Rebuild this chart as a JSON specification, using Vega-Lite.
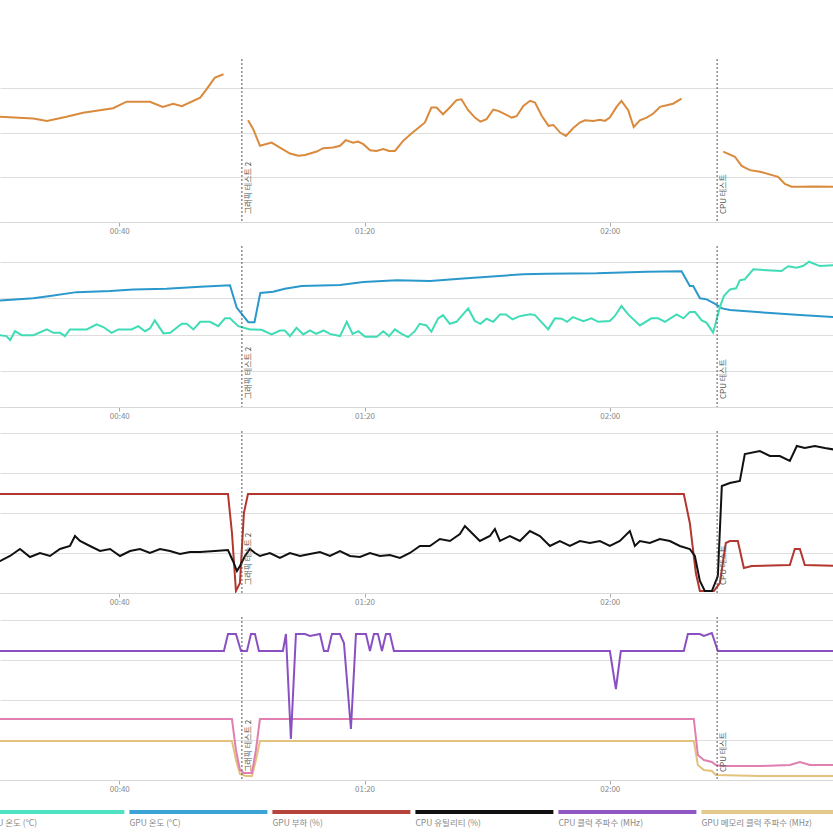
{
  "$schema": "https://vega.github.io/schema/vega-lite/v6.json",
  "padding": {"top": 58, "left": 0, "right": 0, "bottom": 0},
  "background": "white",
  "config": {
    "font": "Noto Sans CJK KR",
    "view": {"stroke": null},
    "axisX": {"grid": false, "tickSize": 4, "tickColor": "#aaa", "domainColor": "#d8d8d8", "labelFontSize": 8, "labelColor": "#888", "labelPadding": 1, "title": null},
    "axisY": {"labels": false, "ticks": false, "domain": false, "grid": true, "gridColor": "#dedede", "title": null}
  },
  "datasets": {
    "events": [{"t": 60.0, "label": "그래픽 테스트 2"}, {"t": 137.5, "label": "CPU 테스트"}],
    "p1": [
      {"t":19,"v":47.0,"s":"a"},{"t":20.55,"v":47.1,"s":"a"},{"t":25.98,"v":46.3,"s":"a"},{"t":28.2,"v":45.2,"s":"a"},{"t":31.4,"v":47.1,"s":"a"},{"t":34.1,"v":48.9,"s":"a"},{"t":39.0,"v":50.9,"s":"a"},{"t":41.2,"v":53.8,"s":"a"},{"t":45.0,"v":53.8,"s":"a"},{"t":47.1,"v":51.5,"s":"a"},{"t":48.8,"v":52.9,"s":"a"},{"t":50.2,"v":51.8,"s":"a"},{"t":53.2,"v":55.6,"s":"a"},{"t":54.25,"v":59.4,"s":"a"},{"t":55.6,"v":64.6,"s":"a"},{"t":57.0,"v":66.1,"s":"a"},
      {"t":61.0,"v":45.5,"s":"b"},{"t":61.85,"v":41.5,"s":"b"},{"t":62.95,"v":34.1,"s":"b"},{"t":64.85,"v":35.5,"s":"b"},{"t":66.2,"v":33.3,"s":"b"},{"t":67.85,"v":30.6,"s":"b"},{"t":69.2,"v":29.6,"s":"b"},{"t":70.3,"v":30.0,"s":"b"},{"t":72.2,"v":31.5,"s":"b"},{"t":73.25,"v":33.0,"s":"b"},{"t":74.9,"v":33.3,"s":"b"},{"t":76.0,"v":34.1,"s":"b"},{"t":76.95,"v":36.6,"s":"b"},{"t":78.15,"v":35.5,"s":"b"},{"t":78.95,"v":36.0,"s":"b"},{"t":79.8,"v":34.8,"s":"b"},{"t":80.9,"v":32.1,"s":"b"},{"t":81.95,"v":31.8,"s":"b"},{"t":83.05,"v":32.6,"s":"b"},{"t":84.0,"v":31.8,"s":"b"},{"t":84.95,"v":31.8,"s":"b"},{"t":86.3,"v":36.3,"s":"b"},{"t":87.65,"v":39.6,"s":"b"},{"t":88.75,"v":42.0,"s":"b"},{"t":89.85,"v":44.5,"s":"b"},{"t":90.9,"v":51.2,"s":"b"},{"t":91.75,"v":51.2,"s":"b"},{"t":92.8,"v":48.2,"s":"b"},{"t":93.9,"v":51.2,"s":"b"},{"t":95.0,"v":54.5,"s":"b"},{"t":95.8,"v":54.9,"s":"b"},{"t":96.9,"v":50.0,"s":"b"},{"t":98.0,"v":46.7,"s":"b"},{"t":98.9,"v":44.9,"s":"b"},{"t":99.9,"v":46.0,"s":"b"},{"t":101.0,"v":50.3,"s":"b"},{"t":101.8,"v":49.7,"s":"b"},{"t":102.9,"v":48.2,"s":"b"},{"t":104.0,"v":46.7,"s":"b"},{"t":104.8,"v":47.3,"s":"b"},{"t":105.9,"v":51.9,"s":"b"},{"t":107.0,"v":54.2,"s":"b"},{"t":107.8,"v":53.4,"s":"b"},{"t":108.9,"v":47.5,"s":"b"},{"t":110.0,"v":43.0,"s":"b"},{"t":110.8,"v":43.4,"s":"b"},{"t":111.9,"v":40.0,"s":"b"},{"t":112.85,"v":38.5,"s":"b"},{"t":114.05,"v":42.0,"s":"b"},{"t":115.1,"v":44.5,"s":"b"},{"t":115.95,"v":45.5,"s":"b"},{"t":117.3,"v":45.2,"s":"b"},{"t":118.4,"v":45.7,"s":"b"},{"t":119.2,"v":45.2,"s":"b"},{"t":120.0,"v":46.7,"s":"b"},{"t":121.1,"v":51.5,"s":"b"},{"t":121.9,"v":54.2,"s":"b"},{"t":123.0,"v":50.0,"s":"b"},{"t":123.9,"v":42.5,"s":"b"},{"t":124.9,"v":45.5,"s":"b"},{"t":126.0,"v":46.7,"s":"b"},{"t":127.1,"v":48.5,"s":"b"},{"t":128.2,"v":51.5,"s":"b"},{"t":129.3,"v":52.2,"s":"b"},{"t":130.3,"v":52.9,"s":"b"},{"t":131.7,"v":55.2,"s":"b"},
      {"t":138.5,"v":31.5,"s":"c"},{"t":140.4,"v":29.2,"s":"c"},{"t":141.5,"v":25.1,"s":"c"},{"t":142.85,"v":23.2,"s":"c"},{"t":144.5,"v":22.5,"s":"c"},{"t":147.45,"v":20.2,"s":"c"},{"t":148.55,"v":17.0,"s":"c"},{"t":149.65,"v":15.8,"s":"c"},{"t":151.0,"v":15.8,"s":"c"},{"t":153.15,"v":15.9,"s":"c"},{"t":156.4,"v":15.8,"s":"c"},{"t":158,"v":15.8,"s":"c"}
    ],
    "p2": [
      {"k":"GPU 온도 (°C)","t":19,"v":58.6},{"k":"GPU 온도 (°C)","t":20.55,"v":58.9},{"k":"GPU 온도 (°C)","t":25.98,"v":60.1},{"k":"GPU 온도 (°C)","t":28.7,"v":61.3},{"k":"GPU 온도 (°C)","t":33.05,"v":63.5},{"k":"GPU 온도 (°C)","t":38.5,"v":64.1},{"k":"GPU 온도 (°C)","t":42.3,"v":65.0},{"k":"GPU 온도 (°C)","t":47.7,"v":65.4},{"k":"GPU 온도 (°C)","t":53.2,"v":66.5},{"k":"GPU 온도 (°C)","t":58.05,"v":67.3},{"k":"GPU 온도 (°C)","t":59.15,"v":55.0},{"k":"GPU 온도 (°C)","t":61.05,"v":46.9},{"k":"GPU 온도 (°C)","t":62.05,"v":46.9},{"k":"GPU 온도 (°C)","t":63.0,"v":63.0},{"k":"GPU 온도 (°C)","t":65.1,"v":63.7},{"k":"GPU 온도 (°C)","t":67.0,"v":65.4},{"k":"GPU 온도 (°C)","t":69.75,"v":66.9},{"k":"GPU 온도 (°C)","t":76.0,"v":67.4},{"k":"GPU 온도 (°C)","t":79.8,"v":69.1},{"k":"GPU 온도 (°C)","t":85.25,"v":70.0},{"k":"GPU 온도 (°C)","t":90.7,"v":69.6},{"k":"GPU 온도 (°C)","t":96.1,"v":71.1},{"k":"GPU 온도 (°C)","t":105.9,"v":73.4},{"k":"GPU 온도 (°C)","t":109.7,"v":73.7},{"k":"GPU 온도 (°C)","t":117.85,"v":73.9},{"k":"GPU 온도 (°C)","t":126.0,"v":74.8},{"k":"GPU 온도 (°C)","t":131.7,"v":75.0},{"k":"GPU 온도 (°C)","t":133.05,"v":66.9},{"k":"GPU 온도 (°C)","t":133.6,"v":66.9},{"k":"GPU 온도 (°C)","t":134.7,"v":60.1},{"k":"GPU 온도 (°C)","t":135.8,"v":59.5},{"k":"GPU 온도 (°C)","t":137.1,"v":57.1},{"k":"GPU 온도 (°C)","t":138.3,"v":54.5},{"k":"GPU 온도 (°C)","t":139.6,"v":53.6},{"k":"GPU 온도 (°C)","t":145.6,"v":52.1},{"k":"GPU 온도 (°C)","t":151.0,"v":50.8},{"k":"GPU 온도 (°C)","t":156.4,"v":49.7},{"k":"GPU 온도 (°C)","t":158,"v":49.5},
      {"k":"CPU 온도 (°C)","t":19,"v":39.8},{"k":"CPU 온도 (°C)","t":20.55,"v":39.6},{"k":"CPU 온도 (°C)","t":21.6,"v":39.2},{"k":"CPU 온도 (°C)","t":22.2,"v":37.0},{"k":"CPU 온도 (°C)","t":23.0,"v":41.9},{"k":"CPU 온도 (°C)","t":24.1,"v":39.7},{"k":"CPU 온도 (°C)","t":26.0,"v":39.7},{"k":"CPU 온도 (°C)","t":28.2,"v":42.9},{"k":"CPU 온도 (°C)","t":29.25,"v":41.0},{"k":"CPU 온도 (°C)","t":30.35,"v":41.0},{"k":"CPU 온도 (°C)","t":31.15,"v":39.2},{"k":"CPU 온도 (°C)","t":31.95,"v":42.9},{"k":"CPU 온도 (°C)","t":34.7,"v":42.9},{"k":"CPU 온도 (°C)","t":36.3,"v":45.7},{"k":"CPU 온도 (°C)","t":37.4,"v":44.2},{"k":"CPU 온도 (°C)","t":38.75,"v":41.0},{"k":"CPU 온도 (°C)","t":39.85,"v":42.9},{"k":"CPU 온도 (°C)","t":42.0,"v":42.9},{"k":"CPU 온도 (°C)","t":43.1,"v":44.7},{"k":"CPU 온도 (°C)","t":44.2,"v":41.9},{"k":"CPU 온도 (°C)","t":45.0,"v":43.4},{"k":"CPU 온도 (°C)","t":45.8,"v":47.9},{"k":"CPU 온도 (°C)","t":47.2,"v":40.7},{"k":"CPU 온도 (°C)","t":48.3,"v":41.0},{"k":"CPU 온도 (°C)","t":50.2,"v":46.0},{"k":"CPU 온도 (°C)","t":51.0,"v":46.0},{"k":"CPU 온도 (°C)","t":52.1,"v":42.9},{"k":"CPU 온도 (°C)","t":53.2,"v":47.1},{"k":"CPU 온도 (°C)","t":54.8,"v":47.1},{"k":"CPU 온도 (°C)","t":56.15,"v":44.7},{"k":"CPU 온도 (°C)","t":57.25,"v":49.0},{"k":"CPU 온도 (°C)","t":58.05,"v":49.0},{"k":"CPU 온도 (°C)","t":59.4,"v":44.7},{"k":"CPU 온도 (°C)","t":61.3,"v":42.9},{"k":"CPU 온도 (°C)","t":63.2,"v":42.7},{"k":"CPU 온도 (°C)","t":64.85,"v":40.1},{"k":"CPU 온도 (°C)","t":66.2,"v":42.3},{"k":"CPU 온도 (°C)","t":67.0,"v":42.3},{"k":"CPU 온도 (°C)","t":67.85,"v":39.2},{"k":"CPU 온도 (°C)","t":68.9,"v":43.8},{"k":"CPU 온도 (°C)","t":70.0,"v":40.1},{"k":"CPU 온도 (°C)","t":71.1,"v":42.3},{"k":"CPU 온도 (°C)","t":72.1,"v":40.4},{"k":"CPU 온도 (°C)","t":73.3,"v":42.3},{"k":"CPU 온도 (°C)","t":74.35,"v":40.4},{"k":"CPU 온도 (°C)","t":76.0,"v":39.2},{"k":"CPU 온도 (°C)","t":77.1,"v":47.1},{"k":"CPU 온도 (°C)","t":78.05,"v":40.4},{"k":"CPU 온도 (°C)","t":79.0,"v":41.9},{"k":"CPU 온도 (°C)","t":80.1,"v":38.8},{"k":"CPU 온도 (°C)","t":82.0,"v":38.8},{"k":"CPU 온도 (°C)","t":83.05,"v":41.9},{"k":"CPU 온도 (°C)","t":84.0,"v":39.2},{"k":"CPU 온도 (°C)","t":84.95,"v":42.9},{"k":"CPU 온도 (°C)","t":86.05,"v":40.4},{"k":"CPU 온도 (°C)","t":87.1,"v":38.6},{"k":"CPU 온도 (°C)","t":88.2,"v":41.9},{"k":"CPU 온도 (°C)","t":89.0,"v":46.0},{"k":"CPU 온도 (°C)","t":90.1,"v":45.1},{"k":"CPU 온도 (°C)","t":90.9,"v":41.6},{"k":"CPU 온도 (°C)","t":92.0,"v":49.0},{"k":"CPU 온도 (°C)","t":92.8,"v":50.8},{"k":"CPU 온도 (°C)","t":93.9,"v":46.0},{"k":"CPU 온도 (°C)","t":95.0,"v":47.1},{"k":"CPU 온도 (°C)","t":96.9,"v":54.5},{"k":"CPU 온도 (°C)","t":98.0,"v":47.5},{"k":"CPU 온도 (°C)","t":98.9,"v":46.0},{"k":"CPU 온도 (°C)","t":99.9,"v":48.8},{"k":"CPU 온도 (°C)","t":101.0,"v":47.1},{"k":"CPU 온도 (°C)","t":102.1,"v":51.2},{"k":"CPU 온도 (°C)","t":103.05,"v":51.2},{"k":"CPU 온도 (°C)","t":104.15,"v":48.4},{"k":"CPU 온도 (°C)","t":105.2,"v":50.1},{"k":"CPU 온도 (°C)","t":107.0,"v":51.2},{"k":"CPU 온도 (°C)","t":107.8,"v":50.8},{"k":"CPU 온도 (°C)","t":109.95,"v":42.9},{"k":"CPU 온도 (°C)","t":111.05,"v":49.0},{"k":"CPU 온도 (°C)","t":112.15,"v":48.8},{"k":"CPU 온도 (°C)","t":113.05,"v":47.1},{"k":"CPU 온도 (°C)","t":114.0,"v":49.7},{"k":"CPU 온도 (°C)","t":115.7,"v":47.5},{"k":"CPU 온도 (°C)","t":117.0,"v":49.0},{"k":"CPU 온도 (°C)","t":118.1,"v":47.1},{"k":"CPU 온도 (°C)","t":120.0,"v":47.5},{"k":"CPU 온도 (°C)","t":120.8,"v":50.2},{"k":"CPU 온도 (°C)","t":121.9,"v":55.8},{"k":"CPU 온도 (°C)","t":123.0,"v":51.2},{"k":"CPU 온도 (°C)","t":124.9,"v":45.1},{"k":"CPU 온도 (°C)","t":126.8,"v":49.0},{"k":"CPU 온도 (°C)","t":127.9,"v":49.0},{"k":"CPU 온도 (°C)","t":129.0,"v":47.1},{"k":"CPU 온도 (°C)","t":130.9,"v":51.2},{"k":"CPU 온도 (°C)","t":132.0,"v":49.0},{"k":"CPU 온도 (°C)","t":133.05,"v":52.5},{"k":"CPU 온도 (°C)","t":133.9,"v":52.5},{"k":"CPU 온도 (°C)","t":135.0,"v":47.9},{"k":"CPU 온도 (°C)","t":135.8,"v":46.5},{"k":"CPU 온도 (°C)","t":136.85,"v":41.1},{"k":"CPU 온도 (°C)","t":137.95,"v":55.2},{"k":"CPU 온도 (°C)","t":138.6,"v":61.3},{"k":"CPU 온도 (°C)","t":139.6,"v":65.0},{"k":"CPU 온도 (°C)","t":140.6,"v":65.6},{"k":"CPU 온도 (°C)","t":141.2,"v":70.0},{"k":"CPU 온도 (°C)","t":142.0,"v":70.6},{"k":"CPU 온도 (°C)","t":143.4,"v":76.1},{"k":"CPU 온도 (°C)","t":145.6,"v":75.6},{"k":"CPU 온도 (°C)","t":148.0,"v":75.2},{"k":"CPU 온도 (°C)","t":149.1,"v":77.8},{"k":"CPU 온도 (°C)","t":150.45,"v":77.0},{"k":"CPU 온도 (°C)","t":151.5,"v":77.9},{"k":"CPU 온도 (°C)","t":152.5,"v":80.3},{"k":"CPU 온도 (°C)","t":154.25,"v":77.9},{"k":"CPU 온도 (°C)","t":156.4,"v":78.3},{"k":"CPU 온도 (°C)","t":158,"v":78.5}
    ],
    "p3": [
      {"k":"GPU 부하 (%)","t":19,"v":99},{"k":"GPU 부하 (%)","t":57.73,"v":99},{"k":"GPU 부하 (%)","t":58.38,"v":60},{"k":"GPU 부하 (%)","t":59.03,"v":2},{"k":"GPU 부하 (%)","t":59.68,"v":10},{"k":"GPU 부하 (%)","t":60.33,"v":80},{"k":"GPU 부하 (%)","t":60.99,"v":99},{"k":"GPU 부하 (%)","t":132.07,"v":99},{"k":"GPU 부하 (%)","t":133.05,"v":70},{"k":"GPU 부하 (%)","t":134.03,"v":20},{"k":"GPU 부하 (%)","t":134.69,"v":2},{"k":"GPU 부하 (%)","t":136.97,"v":2},{"k":"GPU 부하 (%)","t":137.95,"v":10},{"k":"GPU 부하 (%)","t":138.92,"v":50},{"k":"GPU 부하 (%)","t":139.58,"v":52},{"k":"GPU 부하 (%)","t":140.88,"v":52},{"k":"GPU 부하 (%)","t":141.86,"v":25},{"k":"GPU 부하 (%)","t":143.16,"v":27},{"k":"GPU 부하 (%)","t":149.36,"v":28},{"k":"GPU 부하 (%)","t":150.17,"v":44},{"k":"GPU 부하 (%)","t":151.0,"v":44},{"k":"GPU 부하 (%)","t":151.8,"v":28},{"k":"GPU 부하 (%)","t":158,"v":27},
      {"k":"CPU 유틸리티 (%)","t":19,"v":30},{"k":"CPU 유틸리티 (%)","t":20.55,"v":32},{"k":"CPU 유틸리티 (%)","t":22.18,"v":37},{"k":"CPU 유틸리티 (%)","t":23.81,"v":44},{"k":"CPU 유틸리티 (%)","t":25.44,"v":36},{"k":"CPU 유틸리티 (%)","t":27.07,"v":40},{"k":"CPU 유틸리티 (%)","t":28.7,"v":37},{"k":"CPU 유틸리티 (%)","t":30.33,"v":44},{"k":"CPU 유틸리티 (%)","t":31.96,"v":47},{"k":"CPU 유틸리티 (%)","t":32.78,"v":57},{"k":"CPU 유틸리티 (%)","t":33.6,"v":52},{"k":"CPU 유틸리티 (%)","t":35.22,"v":47},{"k":"CPU 유틸리티 (%)","t":36.86,"v":42},{"k":"CPU 유틸리티 (%)","t":38.5,"v":44},{"k":"CPU 유틸리티 (%)","t":40.12,"v":37},{"k":"CPU 유틸리티 (%)","t":41.75,"v":42},{"k":"CPU 유틸리티 (%)","t":43.38,"v":44},{"k":"CPU 유틸리티 (%)","t":45.0,"v":40},{"k":"CPU 유틸리티 (%)","t":46.64,"v":44},{"k":"CPU 유틸리티 (%)","t":48.27,"v":42},{"k":"CPU 유틸리티 (%)","t":49.9,"v":39},{"k":"CPU 유틸리티 (%)","t":51.53,"v":41},{"k":"CPU 유틸리티 (%)","t":53.16,"v":41},{"k":"CPU 유틸리티 (%)","t":55.6,"v":42},{"k":"CPU 유틸리티 (%)","t":57.73,"v":43},{"k":"CPU 유틸리티 (%)","t":58.54,"v":32},{"k":"CPU 유틸리티 (%)","t":59.19,"v":22},{"k":"CPU 유틸리티 (%)","t":59.68,"v":27},{"k":"CPU 유틸리티 (%)","t":60.5,"v":37},{"k":"CPU 유틸리티 (%)","t":61.31,"v":44},{"k":"CPU 유틸리티 (%)","t":62.13,"v":40},{"k":"CPU 유틸리티 (%)","t":62.94,"v":37},{"k":"CPU 유틸리티 (%)","t":64.57,"v":40},{"k":"CPU 유틸리티 (%)","t":66.2,"v":35},{"k":"CPU 유틸리티 (%)","t":67.83,"v":40},{"k":"CPU 유틸리티 (%)","t":69.47,"v":37},{"k":"CPU 유틸리티 (%)","t":71.1,"v":39},{"k":"CPU 유틸리티 (%)","t":72.73,"v":41},{"k":"CPU 유틸리티 (%)","t":74.36,"v":37},{"k":"CPU 유틸리티 (%)","t":75.99,"v":42},{"k":"CPU 유틸리티 (%)","t":77.62,"v":37},{"k":"CPU 유틸리티 (%)","t":79.25,"v":36},{"k":"CPU 유틸리티 (%)","t":80.88,"v":40},{"k":"CPU 유틸리티 (%)","t":82.51,"v":37},{"k":"CPU 유틸리티 (%)","t":84.14,"v":38},{"k":"CPU 유틸리티 (%)","t":85.77,"v":35},{"k":"CPU 유틸리티 (%)","t":87.4,"v":40},{"k":"CPU 유틸리티 (%)","t":89.03,"v":47},{"k":"CPU 유틸리티 (%)","t":90.66,"v":47},{"k":"CPU 유틸리티 (%)","t":92.29,"v":54},{"k":"CPU 유틸리티 (%)","t":93.92,"v":52},{"k":"CPU 유틸리티 (%)","t":95.55,"v":59},{"k":"CPU 유틸리티 (%)","t":96.37,"v":67},{"k":"CPU 유틸리티 (%)","t":97.18,"v":62},{"k":"CPU 유틸리티 (%)","t":98.81,"v":52},{"k":"CPU 유틸리티 (%)","t":100.44,"v":57},{"k":"CPU 유틸리티 (%)","t":101.26,"v":64},{"k":"CPU 유틸리티 (%)","t":102.08,"v":52},{"k":"CPU 유틸리티 (%)","t":103.71,"v":57},{"k":"CPU 유틸리티 (%)","t":105.34,"v":52},{"k":"CPU 유틸리티 (%)","t":106.97,"v":62},{"k":"CPU 유틸리티 (%)","t":108.6,"v":57},{"k":"CPU 유틸리티 (%)","t":110.23,"v":47},{"k":"CPU 유틸리티 (%)","t":111.86,"v":52},{"k":"CPU 유틸리티 (%)","t":113.49,"v":47},{"k":"CPU 유틸리티 (%)","t":115.12,"v":52},{"k":"CPU 유틸리티 (%)","t":116.75,"v":50},{"k":"CPU 유틸리티 (%)","t":118.38,"v":52},{"k":"CPU 유틸리티 (%)","t":120.01,"v":47},{"k":"CPU 유틸리티 (%)","t":121.64,"v":52},{"k":"CPU 유틸리티 (%)","t":123.27,"v":62},{"k":"CPU 유틸리티 (%)","t":124.09,"v":47},{"k":"CPU 유틸리티 (%)","t":124.9,"v":52},{"k":"CPU 유틸리티 (%)","t":126.53,"v":50},{"k":"CPU 유틸리티 (%)","t":128.16,"v":54},{"k":"CPU 유틸리티 (%)","t":129.79,"v":52},{"k":"CPU 유틸리티 (%)","t":131.42,"v":47},{"k":"CPU 유틸리티 (%)","t":133.05,"v":44},{"k":"CPU 유틸리티 (%)","t":133.87,"v":37},{"k":"CPU 유틸리티 (%)","t":134.69,"v":12},{"k":"CPU 유틸리티 (%)","t":135.5,"v":2},{"k":"CPU 유틸리티 (%)","t":136.64,"v":2},{"k":"CPU 유틸리티 (%)","t":137.62,"v":17},{"k":"CPU 유틸리티 (%)","t":138.27,"v":107},{"k":"CPU 유틸리티 (%)","t":139.58,"v":110},{"k":"CPU 유틸리티 (%)","t":141.21,"v":112},{"k":"CPU 유틸리티 (%)","t":142.02,"v":139},{"k":"CPU 유틸리티 (%)","t":144.47,"v":142},{"k":"CPU 유틸리티 (%)","t":146.1,"v":137},{"k":"CPU 유틸리티 (%)","t":147.73,"v":137},{"k":"CPU 유틸리티 (%)","t":149.36,"v":132},{"k":"CPU 유틸리티 (%)","t":150.5,"v":147},{"k":"CPU 유틸리티 (%)","t":151.8,"v":145},{"k":"CPU 유틸리티 (%)","t":153.44,"v":147},{"k":"CPU 유틸리티 (%)","t":155.06,"v":145},{"k":"CPU 유틸리티 (%)","t":158,"v":142}
    ],
    "p4": [
      {"k":"GPU 메모리 클럭 주파수 (MHz)","t":19,"v":39},{"k":"GPU 메모리 클럭 주파수 (MHz)","t":58.38,"v":39},{"k":"GPU 메모리 클럭 주파수 (MHz)","t":59.03,"v":20},{"k":"GPU 메모리 클럭 주파수 (MHz)","t":59.68,"v":6},{"k":"GPU 메모리 클럭 주파수 (MHz)","t":60.66,"v":4},{"k":"GPU 메모리 클럭 주파수 (MHz)","t":61.64,"v":4},{"k":"GPU 메모리 클럭 주파수 (MHz)","t":62.29,"v":20},{"k":"GPU 메모리 클럭 주파수 (MHz)","t":62.94,"v":39},{"k":"GPU 메모리 클럭 주파수 (MHz)","t":133.7,"v":39},{"k":"GPU 메모리 클럭 주파수 (MHz)","t":134.36,"v":15},{"k":"GPU 메모리 클럭 주파수 (MHz)","t":135.34,"v":10},{"k":"GPU 메모리 클럭 주파수 (MHz)","t":136.64,"v":9},{"k":"GPU 메모리 클럭 주파수 (MHz)","t":137.3,"v":5},{"k":"GPU 메모리 클럭 주파수 (MHz)","t":144.47,"v":4},{"k":"GPU 메모리 클럭 주파수 (MHz)","t":158,"v":4},
      {"k":"GPU 클럭 주파수 (MHz)","t":19,"v":61},{"k":"GPU 클럭 주파수 (MHz)","t":58.38,"v":61},{"k":"GPU 클럭 주파수 (MHz)","t":59.03,"v":30},{"k":"GPU 클럭 주파수 (MHz)","t":59.68,"v":10},{"k":"GPU 클럭 주파수 (MHz)","t":60.33,"v":7},{"k":"GPU 클럭 주파수 (MHz)","t":61.64,"v":7},{"k":"GPU 클럭 주파수 (MHz)","t":62.29,"v":30},{"k":"GPU 클럭 주파수 (MHz)","t":62.94,"v":61},{"k":"GPU 클럭 주파수 (MHz)","t":133.7,"v":61},{"k":"GPU 클럭 주파수 (MHz)","t":134.36,"v":25},{"k":"GPU 클럭 주파수 (MHz)","t":135.34,"v":20},{"k":"GPU 클럭 주파수 (MHz)","t":136.64,"v":18},{"k":"GPU 클럭 주파수 (MHz)","t":137.3,"v":15},{"k":"GPU 클럭 주파수 (MHz)","t":138.27,"v":14},{"k":"GPU 클럭 주파수 (MHz)","t":144.47,"v":14},{"k":"GPU 클럭 주파수 (MHz)","t":149.36,"v":15},{"k":"GPU 클럭 주파수 (MHz)","t":151.0,"v":18},{"k":"GPU 클럭 주파수 (MHz)","t":152.62,"v":15},{"k":"GPU 클럭 주파수 (MHz)","t":158,"v":15},
      {"k":"CPU 클럭 주파수 (MHz)","t":19,"v":129},{"k":"CPU 클럭 주파수 (MHz)","t":57.07,"v":129},{"k":"CPU 클럭 주파수 (MHz)","t":57.73,"v":146},{"k":"CPU 클럭 주파수 (MHz)","t":59.03,"v":146},{"k":"CPU 클럭 주파수 (MHz)","t":59.85,"v":129},{"k":"CPU 클럭 주파수 (MHz)","t":60.82,"v":129},{"k":"CPU 클럭 주파수 (MHz)","t":61.48,"v":146},{"k":"CPU 클럭 주파수 (MHz)","t":62.13,"v":146},{"k":"CPU 클럭 주파수 (MHz)","t":62.78,"v":129},{"k":"CPU 클럭 주파수 (MHz)","t":66.69,"v":129},{"k":"CPU 클럭 주파수 (MHz)","t":67.18,"v":146},{"k":"CPU 클럭 주파수 (MHz)","t":67.99,"v":41},{"k":"CPU 클럭 주파수 (MHz)","t":68.81,"v":146},{"k":"CPU 클럭 주파수 (MHz)","t":70.28,"v":146},{"k":"CPU 클럭 주파수 (MHz)","t":71.1,"v":144},{"k":"CPU 클럭 주파수 (MHz)","t":72.73,"v":146},{"k":"CPU 클럭 주파수 (MHz)","t":73.38,"v":129},{"k":"CPU 클럭 주파수 (MHz)","t":74.03,"v":129},{"k":"CPU 클럭 주파수 (MHz)","t":74.68,"v":146},{"k":"CPU 클럭 주파수 (MHz)","t":75.99,"v":146},{"k":"CPU 클럭 주파수 (MHz)","t":76.64,"v":137},{"k":"CPU 클럭 주파수 (MHz)","t":77.78,"v":51},{"k":"CPU 클럭 주파수 (MHz)","t":78.6,"v":146},{"k":"CPU 클럭 주파수 (MHz)","t":80.23,"v":146},{"k":"CPU 클럭 주파수 (MHz)","t":80.88,"v":129},{"k":"CPU 클럭 주파수 (MHz)","t":81.53,"v":146},{"k":"CPU 클럭 주파수 (MHz)","t":82.18,"v":146},{"k":"CPU 클럭 주파수 (MHz)","t":82.84,"v":129},{"k":"CPU 클럭 주파수 (MHz)","t":83.49,"v":146},{"k":"CPU 클럭 주파수 (MHz)","t":84.14,"v":146},{"k":"CPU 클럭 주파수 (MHz)","t":84.79,"v":129},{"k":"CPU 클럭 주파수 (MHz)","t":120.01,"v":129},{"k":"CPU 클럭 주파수 (MHz)","t":120.99,"v":91},{"k":"CPU 클럭 주파수 (MHz)","t":121.8,"v":129},{"k":"CPU 클럭 주파수 (MHz)","t":132.07,"v":129},{"k":"CPU 클럭 주파수 (MHz)","t":132.73,"v":146},{"k":"CPU 클럭 주파수 (MHz)","t":134.69,"v":146},{"k":"CPU 클럭 주파수 (MHz)","t":135.34,"v":144},{"k":"CPU 클럭 주파수 (MHz)","t":136.64,"v":147},{"k":"CPU 클럭 주파수 (MHz)","t":137.62,"v":129},{"k":"CPU 클럭 주파수 (MHz)","t":158,"v":129}
    ],
    "legend": [{"k":"CPU 온도 (°C)"},{"k":"GPU 온도 (°C)"},{"k":"GPU 부하 (%)"},{"k":"CPU 유틸리티 (%)"},{"k":"CPU 클럭 주파수 (MHz)"},{"k":"GPU 메모리 클럭 주파수 (MHz)"}]
  },
  "resolve": {"scale": {"color": "independent", "x": "independent"}},
  "bounds": "flush",
  "spacing": 24,
  "vconcat": [
    {
      "width": 833, "height": 163,
      "layer": [
        {"data": {"name": "p1"}, "mark": {"type": "line", "clip": true, "strokeWidth": 2, "color": "#d98a3c"},
         "encoding": {"x": {"field": "t", "type": "quantitative", "scale": {"domain": [20.55, 156.4], "nice": false}, "axis": {"values": [40, 80, 120], "labelExpr": "utcFormat(datum.value*1000, '%M:%S')"}},
                      "y": {"field": "v", "type": "quantitative", "scale": {"domain": [0, 72.9], "nice": false}, "axis": {"values": [0,10,20,30,40,50,60,70]}},
                      "detail": {"field": "s"}}},
        {"data": {"name": "events"}, "mark": {"type": "rule", "color": "#555", "strokeDash": [2, 2], "strokeWidth": 1}, "encoding": {"x": {"field": "t", "type": "quantitative"}}},
        {"data": {"name": "events"}, "mark": {"type": "text", "angle": 270, "align": "left", "baseline": "top", "dx": 8, "dy": 3, "fontSize": 8, "color": "#555"},
         "encoding": {"x": {"field": "t", "type": "quantitative"}, "y": {"datum": 0}, "text": {"field": "label"}}}
      ]
    },
    {
      "width": 833, "height": 161,
      "layer": [
        {"data": {"name": "p2"}, "mark": {"type": "line", "clip": true, "strokeWidth": 2},
         "encoding": {"x": {"field": "t", "type": "quantitative", "scale": {"domain": [20.55, 156.4], "nice": false}, "axis": {"values": [40, 80, 120], "labelExpr": "utcFormat(datum.value*1000, '%M:%S')"}},
                      "y": {"field": "v", "type": "quantitative", "scale": {"domain": [0, 89], "nice": false}, "axis": {"values": [0,10,20,30,40,50,60,70,80]}},
                      "color": {"field": "k", "type": "nominal", "scale": {"domain": ["CPU 온도 (°C)", "GPU 온도 (°C)"], "range": ["#3fdcb6", "#2b98cc"]}, "legend": null}}},
        {"data": {"name": "events"}, "mark": {"type": "rule", "color": "#555", "strokeDash": [2, 2], "strokeWidth": 1}, "encoding": {"x": {"field": "t", "type": "quantitative"}}},
        {"data": {"name": "events"}, "mark": {"type": "text", "angle": 270, "align": "left", "baseline": "top", "dx": 8, "dy": 3, "fontSize": 8, "color": "#555"},
         "encoding": {"x": {"field": "t", "type": "quantitative"}, "y": {"datum": 0}, "text": {"field": "label"}}}
      ]
    },
    {
      "width": 833, "height": 162,
      "layer": [
        {"data": {"name": "p3"}, "mark": {"type": "line", "clip": true, "strokeWidth": 2},
         "encoding": {"x": {"field": "t", "type": "quantitative", "scale": {"domain": [20.55, 156.4], "nice": false}, "axis": {"values": [40, 80, 120], "labelExpr": "utcFormat(datum.value*1000, '%M:%S')"}},
                      "y": {"field": "v", "type": "quantitative", "scale": {"domain": [0, 162], "nice": false}, "axis": {"values": [0,20,40,60,80,100,120,140,160]}},
                      "color": {"field": "k", "type": "nominal", "scale": {"domain": ["GPU 부하 (%)", "CPU 유틸리티 (%)"], "range": ["#b3372f", "#111111"]}, "legend": null}}},
        {"data": {"name": "events"}, "mark": {"type": "rule", "color": "#555", "strokeDash": [2, 2], "strokeWidth": 1}, "encoding": {"x": {"field": "t", "type": "quantitative"}}},
        {"data": {"name": "events"}, "mark": {"type": "text", "angle": 270, "align": "left", "baseline": "top", "dx": 8, "dy": 3, "fontSize": 8, "color": "#555"},
         "encoding": {"x": {"field": "t", "type": "quantitative"}, "y": {"datum": 0}, "text": {"field": "label"}}}
      ]
    },
    {
      "width": 833, "height": 163,
      "layer": [
        {"data": {"name": "p4"}, "mark": {"type": "line", "clip": true, "strokeWidth": 2},
         "encoding": {"x": {"field": "t", "type": "quantitative", "scale": {"domain": [20.55, 156.4], "nice": false}, "axis": {"values": [40, 80, 120], "labelExpr": "utcFormat(datum.value*1000, '%M:%S')"}},
                      "y": {"field": "v", "type": "quantitative", "scale": {"domain": [0, 163], "nice": false}, "axis": {"values": [0,20,40,60,80,100,120,140,160]}},
                      "color": {"field": "k", "type": "nominal", "scale": {"domain": ["GPU 메모리 클럭 주파수 (MHz)", "GPU 클럭 주파수 (MHz)", "CPU 클럭 주파수 (MHz)"], "range": ["#e2c27c", "#e07fb0", "#8a50c2"]}, "legend": null}}},
        {"data": {"name": "events"}, "mark": {"type": "rule", "color": "#555", "strokeDash": [2, 2], "strokeWidth": 1}, "encoding": {"x": {"field": "t", "type": "quantitative"}}},
        {"data": {"name": "events"}, "mark": {"type": "text", "angle": 270, "align": "left", "baseline": "top", "dx": 8, "dy": 3, "fontSize": 8, "color": "#555"},
         "encoding": {"x": {"field": "t", "type": "quantitative"}, "y": {"datum": 0}, "text": {"field": "label"}}}
      ]
    },
    {
      "width": 833, "height": 28,
      "data": {"name": "legend"},
      "encoding": {"x": {"field": "k", "type": "nominal", "sort": null, "scale": {"type": "band", "domain": ["CPU 온도 (°C)", "GPU 온도 (°C)", "GPU 부하 (%)", "CPU 유틸리티 (%)", "CPU 클럭 주파수 (MHz)", "GPU 메모리 클럭 주파수 (MHz)"], "range": [-13.6, 839.4], "paddingInner": 0.035, "paddingOuter": 0}, "axis": null, "bandPosition": 0}},
      "layer": [
        {"mark": {"type": "bar", "clip": true},
         "encoding": {"y": {"value": 6}, "y2": {"value": 10}, "color": {"field": "k", "type": "nominal", "scale": {"domain": ["CPU 온도 (°C)", "GPU 온도 (°C)", "GPU 부하 (%)", "CPU 유틸리티 (%)", "CPU 클럭 주파수 (MHz)", "GPU 메모리 클럭 주파수 (MHz)"], "range": ["#4fe2c2", "#3ba3d6", "#b5443d", "#111111", "#9058c2", "#e4c98c"]}, "legend": null}}},
        {"mark": {"type": "text", "align": "left", "baseline": "top", "fontSize": 8.5, "color": "#888", "clip": true},
         "encoding": {"text": {"field": "k"}, "y": {"value": 15}}}
      ]
    }
  ]
}
